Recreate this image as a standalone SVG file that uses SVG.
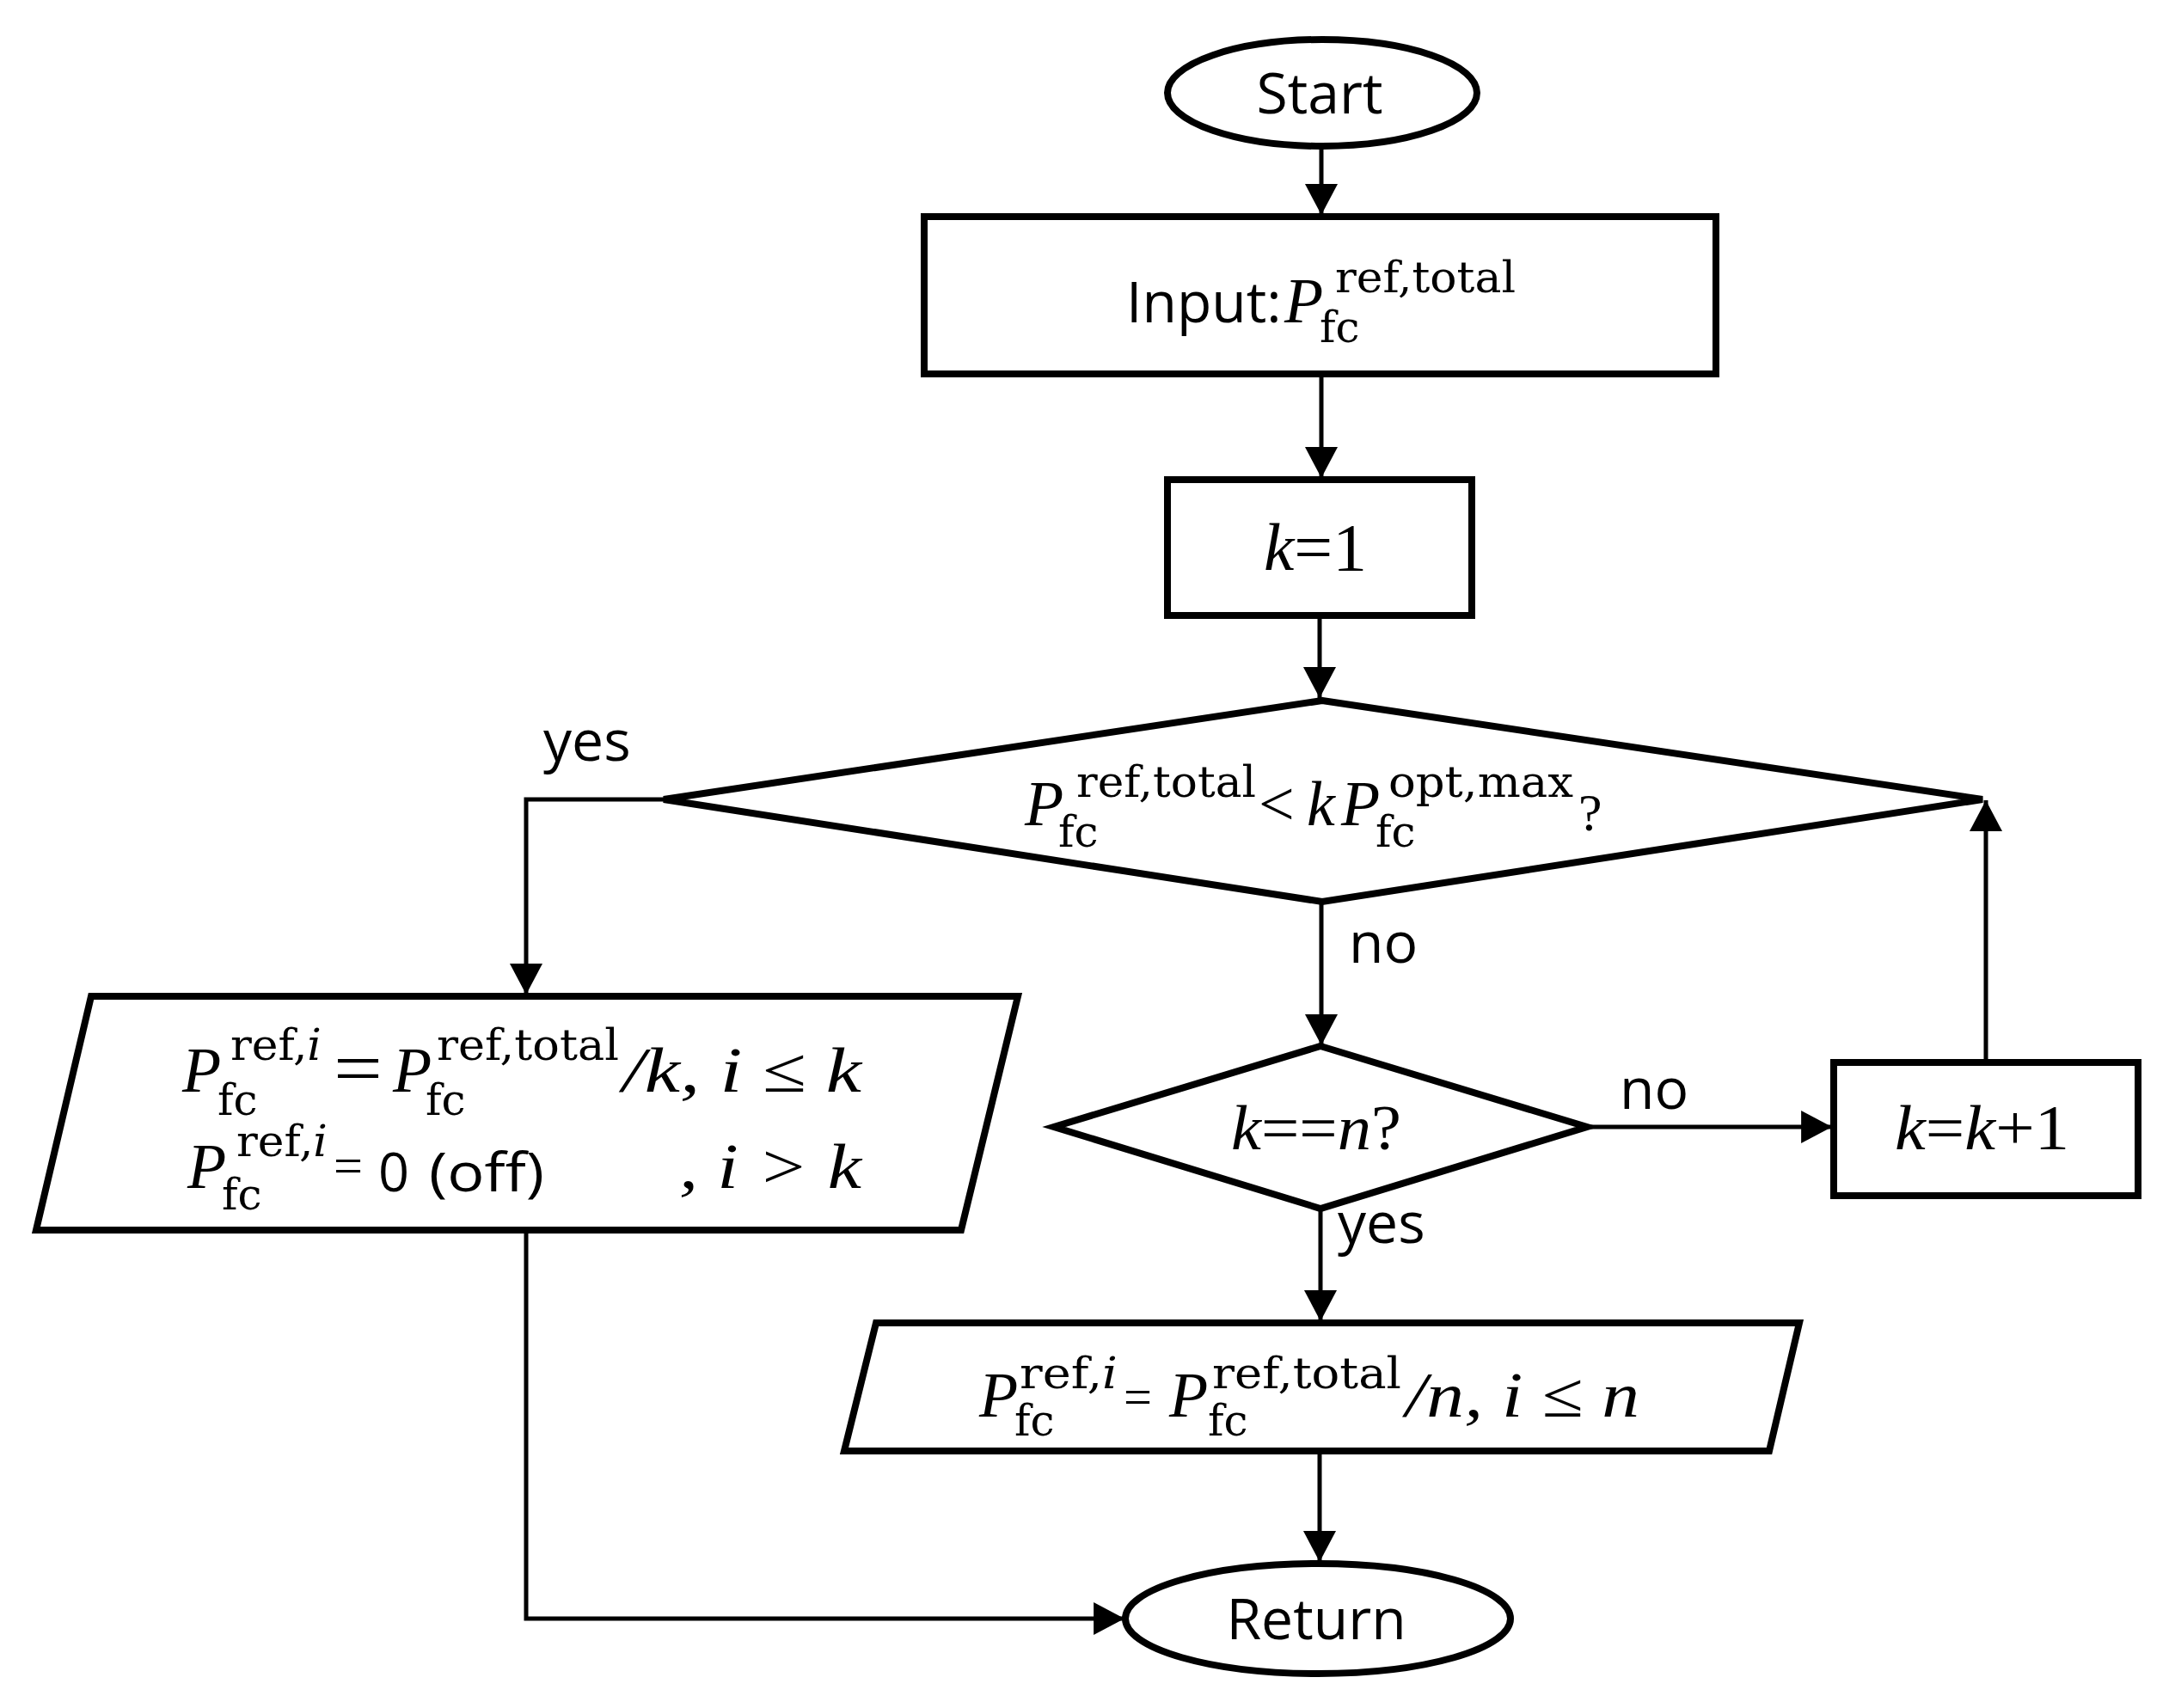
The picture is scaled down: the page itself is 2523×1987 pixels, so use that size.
<svg xmlns="http://www.w3.org/2000/svg" width="2523" height="1987" viewBox="0 0 2523 1987">
<style>
.shape{fill:#fff;stroke:#000;stroke-width:8;stroke-linejoin:miter}
.conn{fill:none;stroke:#000;stroke-width:5}
.t{font-family:"Open Sans","Liberation Sans",sans-serif;font-size:66px;fill:#000}
.m{font-family:"Liberation Serif",serif;font-size:74px;fill:#000}
.i{font-style:italic}
.s{font-family:"DejaVu Serif","Liberation Serif",serif;font-size:50px;fill:#000}
</style>
<defs>
<marker id="arr" markerUnits="userSpaceOnUse" markerWidth="36" markerHeight="38" viewBox="0 0 34 36" refX="34" refY="18" orient="auto">
<path d="M0,0 L34,18 L0,36 z" fill="#000"/>
</marker>
</defs>
<rect width="2523" height="1987" fill="#fff"/>

<g id="connectors">
<path class="conn" d="M1537,171 V250" marker-end="url(#arr)"/>
<path class="conn" d="M1537,436 V556" marker-end="url(#arr)"/>
<path class="conn" d="M1535,717 V812" marker-end="url(#arr)"/>
<path class="conn" d="M772,930 H612 V1157" marker-end="url(#arr)"/>
<path class="conn" d="M1537,1050 V1216" marker-end="url(#arr)"/>
<path class="conn" d="M1846,1311 H2131" marker-end="url(#arr)"/>
<path class="conn" d="M2310,1235 V931" marker-end="url(#arr)"/>
<path class="conn" d="M1536,1407 V1537" marker-end="url(#arr)"/>
<path class="conn" d="M1535,1688 V1817" marker-end="url(#arr)"/>
<path class="conn" d="M612,1432 V1883 H1308" marker-end="url(#arr)"/>
<text class="t" x="632" y="885">yes</text>
<text class="t" x="1569" y="1120">no</text>
<text class="t" x="1884" y="1290">no</text>
<text class="t" x="1556" y="1446">yes</text>
</g>

<g id="start">
<ellipse class="shape" cx="1538" cy="108" rx="180" ry="62"/>
<text class="t" x="1535" y="132" text-anchor="middle">Start</text>
</g>

<g id="input">
<rect class="shape" x="1075" y="252" width="921" height="183"/>
<text class="t" x="1310" y="375">Input:</text>
<text class="m i" x="1494" y="375">P</text>
<text class="s" x="1553" y="340" textLength="210" lengthAdjust="spacingAndGlyphs">ref,total</text>
<text class="s" x="1535" y="398">fc</text>
</g>

<g id="k1">
<rect class="shape" x="1358" y="558" width="354" height="158"/>
<text class="m" x="1470" y="663" style="font-size:78px" textLength="120" lengthAdjust="spacingAndGlyphs"><tspan class="i">k</tspan>=1</text>
</g>

<g id="decision1">
<polygon class="shape" points="1538,815 2306,930 1538,1049 772,930"/>
<text class="m i" x="1192" y="960">P</text>
<text class="s" x="1252" y="927" textLength="209" lengthAdjust="spacingAndGlyphs">ref,total</text>
<text class="s" x="1231" y="985">fc</text>
<text class="m" x="1464" y="960">&lt;</text>
<text class="m i" x="1520" y="960">k</text>
<text class="m i" x="1560" y="960">P</text>
<text class="s" x="1615" y="927" textLength="215" lengthAdjust="spacingAndGlyphs">opt,max</text>
<text class="s" x="1600" y="985">fc</text>
<text class="m" x="1836" y="966" style="font-size:62px">?</text>
</g>

<g id="assign-k">
<polygon class="shape" points="106,1159 1184,1159 1118,1431 42,1431"/>
<text class="m i" x="212" y="1270">P</text>
<text class="s" x="268" y="1233" textLength="106" lengthAdjust="spacingAndGlyphs"><tspan>ref,</tspan><tspan font-style="italic">i</tspan></text>
<text class="s" x="253" y="1297">fc</text>
<text class="m" x="388" y="1272" style="font-size:86px" textLength="57" lengthAdjust="spacingAndGlyphs">=</text>
<text class="m i" x="457" y="1270">P</text>
<text class="s" x="508" y="1233" textLength="212" lengthAdjust="spacingAndGlyphs">ref,total</text>
<text class="s" x="495" y="1297">fc</text>
<text class="m i" x="724" y="1270" textLength="278" lengthAdjust="spacingAndGlyphs">/k, i ≤ k</text>
<text class="m i" x="218" y="1382">P</text>
<text class="s" x="275" y="1345" textLength="106" lengthAdjust="spacingAndGlyphs"><tspan>ref,</tspan><tspan font-style="italic">i</tspan></text>
<text class="s" x="258" y="1407">fc</text>
<text class="m" x="388" y="1377" style="font-size:62px" textLength="34" lengthAdjust="spacingAndGlyphs">=</text>
<text class="t" x="440" y="1386" style="font-size:63px">0</text>
<text class="t" x="499" y="1386" style="font-size:63px" textLength="134" lengthAdjust="spacingAndGlyphs">(off)</text>
<text class="m i" x="790" y="1382" textLength="212" lengthAdjust="spacingAndGlyphs" xml:space="preserve">, i &gt; k</text>
</g>

<g id="decision2">
<polygon class="shape" points="1536,1217 1846,1311 1536,1406 1226,1311"/>
<text class="m i" x="1432" y="1337" textLength="198" lengthAdjust="spacingAndGlyphs">k<tspan font-style="normal">==</tspan>n<tspan font-style="normal">?</tspan></text>
</g>

<g id="increment">
<rect class="shape" x="2133" y="1236" width="354" height="155"/>
<text class="m i" x="2204" y="1337" textLength="203" lengthAdjust="spacingAndGlyphs">k<tspan font-style="normal">=</tspan>k<tspan font-style="normal">+1</tspan></text>
</g>

<g id="assign-n">
<polygon class="shape" points="1019,1539 2093,1539 2058,1688 982,1688"/>
<text class="m i" x="1139" y="1648">P</text>
<text class="s" x="1186" y="1615" textLength="114" lengthAdjust="spacingAndGlyphs"><tspan>ref,</tspan><tspan font-style="italic">i</tspan></text>
<text class="s" x="1180" y="1670">fc</text>
<text class="m" x="1307" y="1646" style="font-size:62px" textLength="33" lengthAdjust="spacingAndGlyphs">=</text>
<text class="m i" x="1360" y="1648">P</text>
<text class="s" x="1410" y="1615" textLength="220" lengthAdjust="spacingAndGlyphs">ref,total</text>
<text class="s" x="1405" y="1670">fc</text>
<text class="m i" x="1635" y="1648" textLength="272" lengthAdjust="spacingAndGlyphs">/n, i ≤ n</text>
</g>

<g id="return">
<ellipse class="shape" cx="1533" cy="1883" rx="224" ry="64"/>
<text class="t" x="1531" y="1907" text-anchor="middle">Return</text>
</g>
</svg>
